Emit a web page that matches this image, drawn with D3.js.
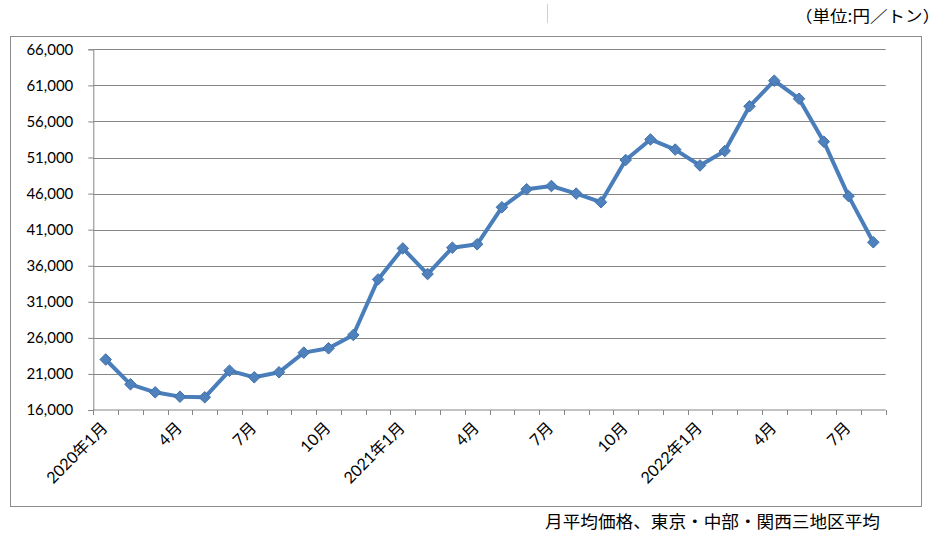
<!DOCTYPE html>
<html><head><meta charset="utf-8">
<script src="https://cdn.jsdelivr.net/npm/d3@7"></script>
<style>
html,body{margin:0;padding:0;background:#fff;}
svg{display:block;}
</style></head>
<body>
<svg id="chart" width="944" height="546"></svg>
<script>
// ---- data ----
const categories = ["2020年1月","2月","3月","4月","5月","6月","7月","8月","9月","10月","11月","12月",
  "2021年1月","2月","3月","4月","5月","6月","7月","8月","9月","10月","11月","12月",
  "2022年1月","2月","3月","4月","5月","6月","7月","8月"];
const values = [23000,19560,18450,17850,17760,21450,20530,21230,23950,24550,26400,34100,
  38400,34850,38500,38970,44100,46600,47050,46000,44800,50650,53500,52100,
  49900,51900,58100,61650,59150,53200,45650,39250];
const yTicks = [16000,21000,26000,31000,36000,41000,46000,51000,56000,61000,66000];
const unitLabel = "（単位:円／トン）";
const caption = "月平均価格、東京・中部・関西三地区平均";

// ---- layout ----
const svg = d3.select("#chart");
const mLeft = 93.3, mRight = 885.7, mTop = 49.3, mBottom = 410;
const font = "Lato, 'Noto Sans CJK JP', sans-serif";
const gridColor = "#868686";
const lineColor = "#4A7EBB";

// outer frame
svg.append("rect").attr("x",10.5).attr("y",36.5).attr("width",911).attr("height",470)
  .attr("fill","none").attr("stroke","#8c8c8c").attr("stroke-width",1);
// small cell artifact line
svg.append("line").attr("x1",547.5).attr("x2",547.5).attr("y1",4).attr("y2",23)
  .attr("stroke","#d0d0d0").attr("stroke-width",1);

const x = d3.scaleBand().domain(d3.range(categories.length)).range([mLeft,mRight]).padding(0);
const y = d3.scaleLinear().domain([16000,66000]).range([mBottom,mTop]);
const cx = i => x(i) + x.bandwidth()/2;

// gridlines + y axis
const yAxis = d3.axisLeft(y).tickValues(yTicks).tickSize(5).tickPadding(15)
  .tickFormat(d3.format(","));
const gy = svg.append("g").attr("transform",`translate(${mLeft},0)`).call(yAxis);
gy.select(".domain").attr("stroke",gridColor);
gy.selectAll(".tick line").attr("stroke",gridColor);
gy.selectAll(".tick text").attr("font-family",font).attr("font-size",15).attr("fill","#000");
svg.append("g").selectAll("line").data(yTicks.slice(1)).join("line")
  .attr("x1",mLeft).attr("x2",mRight)
  .attr("y1",d=>Math.round(y(d))+0.5).attr("y2",d=>Math.round(y(d))+0.5)
  .attr("stroke",gridColor).attr("stroke-width",1);

// x axis
svg.append("line").attr("x1",mLeft).attr("x2",mRight).attr("y1",mBottom).attr("y2",mBottom)
  .attr("stroke",gridColor);
const bounds = d3.range(categories.length+1).map(i => i < categories.length ? x(i) : mRight);
svg.append("g").selectAll("line").data(bounds).join("line")
  .attr("x1",d=>Math.round(d)+0.5).attr("x2",d=>Math.round(d)+0.5)
  .attr("y1",mBottom).attr("y2",mBottom+5).attr("stroke",gridColor);
const labelIdx = d3.range(categories.length).filter(i => i % 3 === 0);
svg.append("g").selectAll("text").data(labelIdx).join("text")
  .attr("transform", i => `translate(${cx(i)+3},${mBottom+19}) rotate(-45)`)
  .attr("text-anchor","end").attr("font-family",font).attr("font-size",16).attr("fill","#000")
  .text(i => categories[i]);

// line + markers
const line = d3.line().x((d,i)=>cx(i)).y(d=>y(d));
svg.append("path").datum(values).attr("d",line).attr("fill","none")
  .attr("stroke",lineColor).attr("stroke-width",4).attr("stroke-linejoin","round");
const sym = d3.symbol().type(d3.symbolDiamond2).size(85);
svg.append("g").selectAll("path").data(values).join("path")
  .attr("transform",(d,i)=>`translate(${cx(i)},${y(d)})`)
  .attr("d",sym()).attr("fill","#4F81BD").attr("stroke","#3F70AA").attr("stroke-width",1);

// texts
svg.append("text").attr("x",795).attr("y",22)
  .attr("font-family","'Noto Sans CJK JP', sans-serif").attr("font-size",16).attr("fill","#000")
  .attr("textLength",145).attr("lengthAdjust","spacingAndGlyphs").text(unitLabel);
svg.append("text").attr("x",545).attr("y",528)
  .attr("font-family","'Noto Sans CJK JP', sans-serif").attr("font-size",17).attr("fill","#000")
  .attr("textLength",335).attr("lengthAdjust","spacingAndGlyphs").text(caption);
</script>
</body></html>
